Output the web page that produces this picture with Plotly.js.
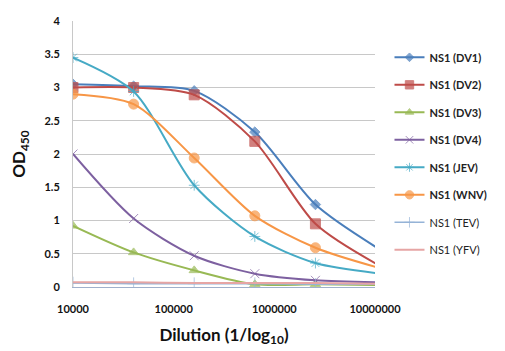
<!DOCTYPE html>
<html>
<head>
<meta charset="utf-8">
<script src="https://cdn.plot.ly/plotly-3.0.1.min.js"></script>
<style>html,body{margin:0;padding:0;background:#fff;}#chart{width:505px;height:351px;}</style>
</head>
<body>
<div id="chart"></div>
<script>
const dilutions = [10000, 40000, 160000, 640000, 2560000, 10240000];
const seriesNames = ["NS1 (DV1)", "NS1 (DV2)", "NS1 (DV3)", "NS1 (DV4)", "NS1 (JEV)", "NS1 (WNV)", "NS1 (TEV)", "NS1 (YFV)"];
const dv1 = [3.05, 3.02, 2.95, 2.33, 1.24, 0.6];
const dv2 = [3.0, 3.0, 2.89, 2.19, 0.95, 0.35];
const dv3 = [0.92, 0.52, 0.25, 0.04, 0.04, 0.03];
const dv4 = [2.0, 1.03, 0.47, 0.2, 0.1, 0.07];
const jev = [3.45, 2.94, 1.53, 0.76, 0.36, 0.21];
const wnv = [2.9, 2.75, 1.94, 1.07, 0.59, 0.3];
const tev = [0.06, 0.05, 0.05, 0.05, 0.04, 0.04];
const yfv = [0.07, 0.07, 0.06, 0.06, 0.06, 0.05];
const yTickVals = [0, 0.5, 1, 1.5, 2, 2.5, 3, 3.5, 4];
const yTickText = ["0", "0.5", "1", "1.5", "2", "2.5", "3", "3.5", "4"];
const xTickVals = [10000, 100000, 1000000, 10000000];
const xTickText = ["10000", "100000", "1000000", "10000000"];

const values = [dv1, dv2, dv3, dv4, jev, wnv, tev, yfv];
const colors = ["#4A7EBB", "#BE4B48", "#98B954", "#7D60A0", "#46AAC5", "#F79646", "#95B3D7", "#E6A5A4"];
const symbols = ["diamond", "square", "triangle-up", "x-thin-open", "asterisk-open", "circle", "cross-thin-open", "circle"];
const sizes = [8, 10, 9, 9, 9, 10, 9, 0];
const bold = [true, true, true, true, true, true, false, false];
const widths = [2, 2, 2, 2, 2, 2, 1.5, 2];

const traces = values.map((v, i) => ({
  x: dilutions,
  y: v,
  type: "scatter",
  mode: sizes[i] > 0 ? "lines+markers" : "lines",
  name: bold[i] ? "<b>" + seriesNames[i] + "</b>" : seriesNames[i],
  legendgroup: "g" + i,
  line: {color: colors[i], width: widths[i], shape: "spline", smoothing: 0.8},
  marker: {symbol: symbols[i], size: dilutions.map((d, k) => k === dilutions.length - 1 ? 0 : sizes[i]),
           color: colors[i], line: {color: colors[i], width: 1}},
  cliponaxis: true
}));

const font = "Lato, 'Open Sans', sans-serif";
const layout = {
  width: 505, height: 351,
  margin: {l: 73, r: 127, t: 21, b: 64},
  paper_bgcolor: "#fff", plot_bgcolor: "#fff",
  font: {family: font, size: 11, color: "#222"},
  showlegend: true,
  legend: {x: 1.048, xanchor: "left", y: 0.918, yanchor: "top", tracegroupgap: 8.5,
           font: {family: font, size: 11, color: "#222"}, itemwidth: 30},
  xaxis: {
    type: "log", range: [4, 7],
    tickvals: xTickVals, ticktext: xTickText,
    tickfont: {family: font, size: 11, color: "#111", weight: "bold"},
    showgrid: false, zeroline: false,
    showline: true, linecolor: "#9fb0cc", linewidth: 1,
    ticks: "", ticklabelstandoff: 12,
    title: {text: "<b>Dilution (1/log<sub>10</sub>)</b>", font: {family: font, size: 17, color: "#111"}, standoff: 14}
  },
  yaxis: {
    range: [0, 4],
    tickvals: yTickVals, ticktext: yTickText,
    tickfont: {family: font, size: 11, color: "#111", weight: "bold"},
    showgrid: true, gridcolor: "#c8c8c8", gridwidth: 1,
    zeroline: false, showline: true, linecolor: "#c8c8c8",
    ticks: "", ticklabelstandoff: 10,
    title: {text: "<b>OD<sub>450</sub></b>", font: {family: font, size: 17, color: "#111"}, standoff: 14}
  }
};

Plotly.newPlot("chart", traces, layout, {displayModeBar: false, staticPlot: true});
</script>
</body>
</html>
